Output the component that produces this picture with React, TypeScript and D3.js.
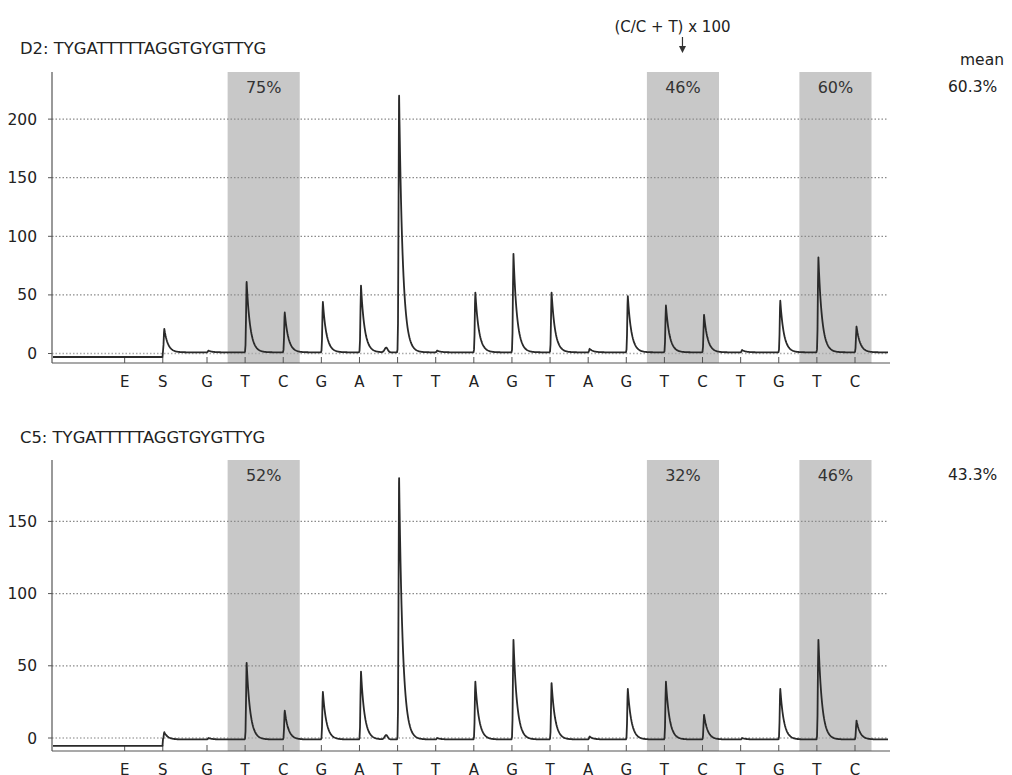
import React from "react";
import * as d3 from "d3";

// dispensation order (x axis)
const dispensation = ["E", "S", "G", "T", "C", "G", "A", "T", "T", "A", "G", "T", "A", "G", "T", "C", "T", "G", "T", "C"];

// peak heights per dispensation
const d2Peaks = [0, 20, 1.5, 60, 34, 43, 57, 219, 1.5, 51, 84, 51, 3, 48, 40, 32, 2, 44, 81, 22];
const c5Peaks = [0, 5, 1, 53, 20, 33, 47, 181, 1, 40, 69, 39, 2, 35, 40, 17, 1, 35, 69, 13];

// small artefact bump just before the big T peak
const bumpAt = 6.7;
const d2Bump = 4;
const c5Bump = 3;

// baseline before / after the substrate dispensation
const d2Base = [-3, 1];
const c5Base = [-5.5, -1];

const yTicksTop = [0, 50, 100, 150, 200];
const yTicksBottom = [0, 50, 100, 150];

// CpG sites highlighted (index of T in the T/C pair) and methylation %
const cpgIndex = [3, 14, 18];
const d2Pct = ["75%", "46%", "60%"];
const c5Pct = ["52%", "32%", "46%"];

const FONT = "DejaVu Sans, Verdana, sans-serif";

// enzyme + substrate dispensations sit a little further left than the rest
const xLin = d3.scaleLinear().domain([2, 19]).range([207, 855]);
const pos = (i: number) => (i < 2 ? i - 0.16 : i);
const x = (i: number) => xLin(pos(i));
const xLeft = 52;
const xRight = 889;

type PanelProps = {
  title: string;
  titleY: number;
  top: number;
  bottom: number;
  yDomain: [number, number];
  ticks: number[];
  peaks: number[];
  bump: number;
  base: number[];
  pct: string[];
  mean: string;
};

function trace(peaks: number[], bump: number, base: number[]) {
  const sIdx = 1;
  const ts: number[] = [];
  for (let px = xLeft + 1; px <= xRight - 1; px += 0.5) ts.push(xLin.invert(px));
  peaks.forEach((h, i) => {
    if (i >= sIdx) ts.push(pos(i) + 0.04);
  });
  ts.sort((a, b) => a - b);
  const sPos = pos(sIdx);
  return ts.map((t) => {
    let v = t < sPos ? base[0] : base[1];
    peaks.forEach((h, i) => {
      if (i < sIdx || h <= 0) return;
      const dt = t - (pos(i) + 0.04);
      if (dt >= 0) v += h * Math.exp(-dt / 0.095);
      else v += h * Math.exp(-(dt * dt) / (2 * 0.014 * 0.014));
    });
    const db = t - bumpAt;
    v += bump * Math.exp(-(db * db) / (2 * 0.04 * 0.04));
    return [xLin(t), v] as [number, number];
  });
}

function Panel(p: PanelProps) {
  const y = d3.scaleLinear().domain(p.yDomain).range([p.bottom, p.top]);
  const line = d3
    .line<[number, number]>()
    .x((d) => d[0])
    .y((d) => y(d[1]));
  const data = trace(p.peaks, p.bump, p.base);
  return (
    <g>
      <text x={20} y={p.titleY} fontSize={16.4} fill="#222">
        {p.title}
      </text>
      {cpgIndex.map((ci, k) => (
        <g key={k}>
          <rect
            x={x(ci) - 17.5}
            y={p.top}
            width={x(ci + 1) - x(ci) + 34}
            height={p.bottom - p.top}
            fill="#c8c8c8"
          />
          <text x={(x(ci) + x(ci + 1)) / 2 - 0.5} y={p.top + 21} fontSize={16} textAnchor="middle" fill="#333">
            {p.pct[k]}
          </text>
        </g>
      ))}
      {p.ticks.map((t) => (
        <g key={t}>
          <line
            x1={xLeft}
            x2={xRight - 1}
            y1={y(t)}
            y2={y(t)}
            stroke={t === 0 ? "#aaa" : "#8a8a8a"}
            strokeWidth={1.3}
            strokeDasharray="1.5,2"
          />
          <line x1={xLeft - 4} x2={xLeft} y1={y(t)} y2={y(t)} stroke="#555" />
          <text x={37} y={y(t) + 5.5} fontSize={15.5} textAnchor="end" fill="#222">
            {t}
          </text>
        </g>
      ))}
      <line x1={xLeft} x2={xLeft} y1={p.top} y2={p.bottom} stroke="#555" strokeWidth={1.2} />
      <line x1={xLeft} x2={xRight + 1} y1={p.bottom} y2={p.bottom} stroke="#555" strokeWidth={1.2} />
      {dispensation.map((d, i) => (
        <g key={i}>
          <line x1={x(i)} x2={x(i)} y1={p.bottom} y2={p.bottom - 6} stroke="#555" />
          <text x={x(i)} y={p.bottom + 24} fontSize={15} textAnchor="middle" fill="#222">
            {d}
          </text>
        </g>
      ))}
      <path d={line(data) || ""} fill="none" stroke="#2a2a2a" strokeWidth={1.8} strokeLinejoin="round" />
      <text x={948} y={p.top + 20} fontSize={15.5} fill="#222">
        {p.mean}
      </text>
    </g>
  );
}

export default function App() {
  const arrowX = (x(14) + x(15)) / 2 - 1;
  return (
    <svg
      width={1012}
      height={775}
      style={{ position: "absolute", left: 0, top: 0, background: "#fff" }}
      fontFamily={FONT}
    >
      <text x={arrowX - 10} y={32} fontSize={15} textAnchor="middle" fill="#222">
        (C/C + T) x 100
      </text>
      <line x1={arrowX} x2={arrowX} y1={37} y2={49} stroke="#333" strokeWidth={1.2} />
      <path d={`M${arrowX - 3.5},${46} L${arrowX + 3.5},${46} L${arrowX},${53} Z`} fill="#333" />
      <text x={960} y={65} fontSize={15.5} fill="#222">
        mean
      </text>
      <Panel
        title="D2: TYGATTTTTAGGTGYGTTYG"
        titleY={54}
        top={72}
        bottom={363}
        yDomain={[-8.1, 240.2]}
        ticks={yTicksTop}
        peaks={d2Peaks}
        bump={d2Bump}
        base={d2Base}
        pct={d2Pct}
        mean="60.3%"
      />
      <Panel
        title="C5: TYGATTTTTAGGTGYGTTYG"
        titleY={443}
        top={460}
        bottom={751}
        yDomain={[-9, 192.5]}
        ticks={yTicksBottom}
        peaks={c5Peaks}
        bump={c5Bump}
        base={c5Base}
        pct={c5Pct}
        mean="43.3%"
      />
    </svg>
  );
}
